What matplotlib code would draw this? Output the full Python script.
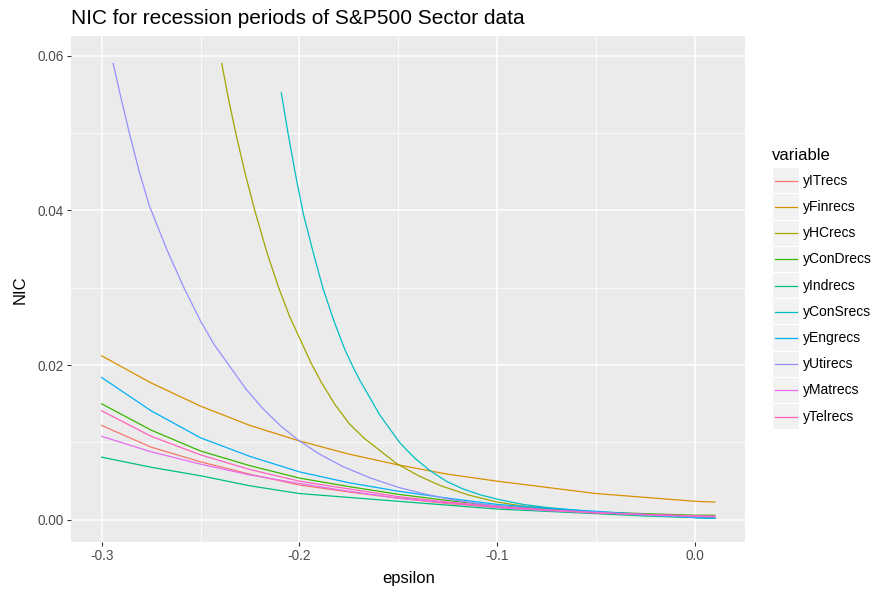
import numpy as np
import matplotlib
matplotlib.use("Agg")
import matplotlib.pyplot as plt
from matplotlib.patches import Rectangle
from matplotlib.lines import Line2D
from matplotlib.ticker import FixedLocator

plt.rcParams['font.family'] = ['Liberation Sans', 'DejaVu Sans']
plt.rcParams['axes.unicode_minus'] = False

# common epsilon grid for the flatter series
eps_grid = [-0.3, -0.275, -0.25, -0.225, -0.2, -0.175, -0.15, -0.125,
            -0.1, -0.075, -0.05, -0.025, 0.0, 0.01]

yITrecs = [0.0122, 0.0094, 0.0075, 0.0059, 0.0045, 0.0036, 0.0028, 0.0021,
           0.0016, 0.0012, 0.0009, 0.0006, 0.0004, 0.0003]
yFinrecs = [0.0212, 0.0177, 0.0147, 0.0122, 0.0102, 0.0085, 0.0071, 0.0059,
            0.0050, 0.0042, 0.0034, 0.0029, 0.0024, 0.0023]
yConDrecs = [0.0150, 0.0116, 0.0089, 0.0070, 0.0054, 0.0043, 0.0033, 0.0025,
             0.0018, 0.0014, 0.0010, 0.0008, 0.0006, 0.0006]
yIndrecs = [0.0081, 0.0068, 0.0057, 0.0044, 0.0034, 0.0029, 0.0024, 0.0019,
            0.0014, 0.0011, 0.0008, 0.0005, 0.0003, 0.0002]
yEngrecs = [0.0184, 0.0141, 0.0106, 0.0082, 0.0062, 0.0048, 0.0037, 0.0028,
            0.0020, 0.0015, 0.0011, 0.0007, 0.0003, 0.0002]
yMatrecs = [0.0108, 0.0088, 0.0072, 0.0058, 0.0047, 0.0037, 0.0028, 0.0022,
            0.0016, 0.0012, 0.0009, 0.0007, 0.0005, 0.0005]
yTelrecs = [0.0141, 0.0108, 0.0084, 0.0065, 0.0050, 0.0040, 0.0030, 0.0023,
            0.0017, 0.0013, 0.0009, 0.0007, 0.0005, 0.0004]

# steep series start later, own epsilon values
eps_HC = [-0.2393, -0.2358, -0.2322, -0.2274, -0.2226, -0.2165, -0.2105, -0.2050,
          -0.1994, -0.1942, -0.189, -0.1818, -0.1747, -0.1671, -0.1595, -0.151,
          -0.1398, -0.1285, -0.1143, -0.1, -0.0875, -0.075, -0.05, -0.025, 0.0, 0.01]
yHCrecs = [0.0590, 0.0543, 0.0500, 0.0447, 0.0400, 0.0346, 0.0300, 0.0263,
           0.0232, 0.0203, 0.0178, 0.0148, 0.0124, 0.0105, 0.0090, 0.0073,
           0.0057, 0.0044, 0.0032, 0.0023, 0.0018, 0.0015, 0.0010, 0.0007, 0.0005, 0.0005]

eps_ConS = [-0.2092, -0.2058, -0.2019, -0.1980, -0.1933, -0.1882, -0.1827, -0.1772,
            -0.1730, -0.1696, -0.1595, -0.1494, -0.1418, -0.1342, -0.1258, -0.1174,
            -0.1081, -0.0988, -0.0870, -0.075, -0.05, -0.025, 0.0, 0.01]
yConSrecs = [0.0552, 0.0500, 0.0445, 0.0395, 0.0348, 0.0300, 0.0258, 0.0221,
             0.0198, 0.0181, 0.0136, 0.0100, 0.0080, 0.0064, 0.0050, 0.0040,
             0.0032, 0.0026, 0.0020, 0.0016, 0.0010, 0.0006, 0.0003, 0.0002]

eps_Uti = [-0.2942, -0.2901, -0.2860, -0.2810, -0.2759, -0.2670, -0.2582, -0.25,
           -0.2430, -0.2354, -0.2270, -0.2186, -0.2093, -0.2, -0.1899, -0.1781,
           -0.1640, -0.15, -0.1375, -0.125, -0.1125, -0.1, -0.075, -0.05, -0.025,
           0.0, 0.01]
yUtirecs = [0.0590, 0.0544, 0.0500, 0.0450, 0.0406, 0.0349, 0.0299, 0.0257,
            0.0226, 0.0199, 0.0169, 0.0144, 0.0121, 0.0102, 0.0085, 0.0069,
            0.0054, 0.0042, 0.0034, 0.0027, 0.0022, 0.0018, 0.0013, 0.0010, 0.0006,
            0.0004, 0.0004]

variables = ['yITrecs', 'yFinrecs', 'yHCrecs', 'yConDrecs', 'yIndrecs',
             'yConSrecs', 'yEngrecs', 'yUtirecs', 'yMatrecs', 'yTelrecs']
series = {
    'yITrecs': (eps_grid, yITrecs),
    'yFinrecs': (eps_grid, yFinrecs),
    'yHCrecs': (eps_HC, yHCrecs),
    'yConDrecs': (eps_grid, yConDrecs),
    'yIndrecs': (eps_grid, yIndrecs),
    'yConSrecs': (eps_ConS, yConSrecs),
    'yEngrecs': (eps_grid, yEngrecs),
    'yUtirecs': (eps_Uti, yUtirecs),
    'yMatrecs': (eps_grid, yMatrecs),
    'yTelrecs': (eps_grid, yTelrecs),
}
colors = ['#F8766D', '#D89000', '#A3A500', '#39B600', '#00BF7D',
          '#00BFC4', '#00B0F6', '#9590FF', '#E76BF3', '#FF62BC']

xticks = [-0.3, -0.2, -0.1, 0.0]
xtick_labels = ['-0.3', '-0.2', '-0.1', '0.0']
yticks = [0.0, 0.02, 0.04, 0.06]
ytick_labels = ['0.00', '0.02', '0.04', '0.06']

W, H = 876, 592
fig = plt.figure(figsize=(W / 100, H / 100), dpi=100)
ax = fig.add_axes([71 / W, 1 - 542.3 / H, (745.5 - 71) / W, (542.3 - 36.3) / H])
ax.set_facecolor('#EBEBEB')
for s in ax.spines.values():
    s.set_visible(False)

for name, col in zip(variables, colors):
    xs, ys = series[name]
    ax.plot(xs, ys, color=col, linewidth=0.9, solid_joinstyle='round')

ax.set_xlim(-0.3155, 0.0255)
ax.set_ylim(-0.0029, 0.0625)
ax.xaxis.set_major_locator(FixedLocator(xticks))
ax.xaxis.set_minor_locator(FixedLocator([-0.25, -0.15, -0.05]))
ax.yaxis.set_major_locator(FixedLocator(yticks))
ax.yaxis.set_minor_locator(FixedLocator([0.01, 0.03, 0.05]))
ax.set_xticklabels(xtick_labels)
ax.set_yticklabels(ytick_labels)
ax.grid(which='major', color='white', linewidth=1.1)
ax.grid(which='minor', color='white', linewidth=0.55)
ax.set_axisbelow(True)
ax.tick_params(which='major', length=3, width=0.8, color='#333333',
               labelcolor='#4D4D4D', labelsize=9.8, pad=2)
ax.tick_params(which='minor', length=0)

ax.set_xlabel('epsilon', fontsize=12, va='center')
ax.xaxis.set_label_coords(0.5, (542.3 - 578) / 506)
ax.set_ylabel('NIC', fontsize=12, va='center')
ax.yaxis.set_label_coords((20 - 71) / 674.5, 0.5)

fig.text(71 / W, 1 - 24.5 / H, 'NIC for recession periods of S&P500 Sector data',
         fontsize=15, ha='left', va='baseline', color='black')

# legend drawn by hand to get ggplot-style key boxes
fig.text(772 / W, 1 - 156 / H, 'variable', fontsize=12, ha='left', va='center')
for i, (name, col) in enumerate(zip(variables, colors)):
    yc = 180.8 + 26.2 * i
    fig.add_artist(Rectangle((772.7 / W, 1 - (yc + 12.6) / H), 26.6 / W, 25.2 / H,
                             transform=fig.transFigure, facecolor='#F2F2F2',
                             edgecolor='none'))
    fig.add_artist(Line2D([775 / W, 797 / W], [1 - yc / H, 1 - yc / H],
                          transform=fig.transFigure, color=col, linewidth=0.9))
    fig.text(802.7 / W, 1 - yc / H, name, fontsize=10, ha='left', va='center')

fig.savefig('out.png', dpi=100)
